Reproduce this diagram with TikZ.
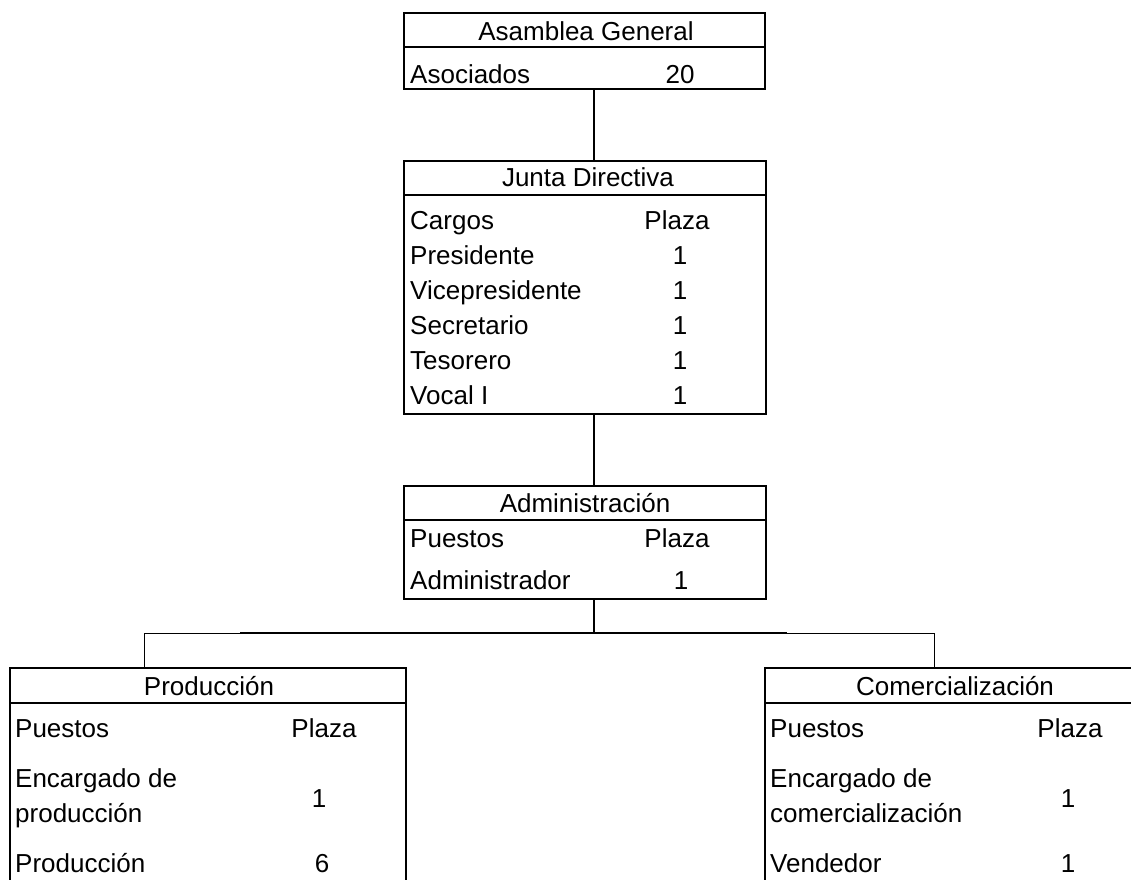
\documentclass[tikz,border=0pt]{standalone}
\usepackage{fontspec}
\setmainfont{Liberation Sans}
\begin{document}
\begin{tikzpicture}[x=1pt,y=-1pt,
  box/.style={draw, line width=2pt, rectangle, inner sep=0pt},
  sep/.style={line width=2pt},
  conn/.style={line width=2pt},
  branch/.style={line width=1pt},
  txt/.style={inner sep=0pt, font=\fontsize{26}{31}\selectfont},
  lt/.style={txt, anchor=base west},
  ct/.style={txt, anchor=base}]
\useasboundingbox (0,0) rectangle (1131,879);
\clip (0,0) rectangle (1131,879);

% Asamblea General
\node[box, minimum width=361pt, minimum height=76pt] (ag) at (584.5,51) {};
\draw[sep] (ag.north west) ++(0,35) -- ++(361,0);
\node[ct] (ag-h) at (586,40.7) {Asamblea General};
\node[lt] (ag-a) at (410,83) {Asociados};
\node[ct] (ag-n) at (680,83) {20};

% Junta Directiva
\node[box, minimum width=362pt, minimum height=253pt] (jd) at (585,287.5) {};
\draw[sep] (jd.north west) ++(0,35) -- ++(362,0);
\node[ct] (jd-h) at (588,186) {Junta Directiva};
\node[lt] (jd-c) at (410,229) {Cargos};
\node[ct] (jd-cp) at (677,229) {Plaza};
\node[lt] (jd-1) at (410,264) {Presidente};
\node[ct] (jd-1n) at (680,264) {1};
\node[lt] (jd-2) at (410,299) {Vicepresidente};
\node[ct] (jd-2n) at (680,299) {1};
\node[lt] (jd-3) at (410,334) {Secretario};
\node[ct] (jd-3n) at (680,334) {1};
\node[lt] (jd-4) at (410,369) {Tesorero};
\node[ct] (jd-4n) at (680,369) {1};
\node[lt] (jd-5) at (410,404) {Vocal I};
\node[ct] (jd-5n) at (680,404) {1};

% Administracion
\node[box, minimum width=362pt, minimum height=113pt] (ad) at (585,542.5) {};
\draw[sep] (ad.north west) ++(0,35) -- ++(362,0);
\node[ct] (ad-h) at (585,512) {Administración};
\node[lt] (ad-p) at (410,547) {Puestos};
\node[ct] (ad-pp) at (677,547) {Plaza};
\node[lt] (ad-1) at (410,589) {Administrador};
\node[ct] (ad-1n) at (681,589) {1};

% Produccion
\node[box, minimum width=396pt, minimum height=232pt] (pr) at (208,784) {};
\draw[sep] (pr.north west) ++(0,36) -- ++(396,0);
\node[ct] (pr-h) at (209,695) {Producción};
\node[lt] (pr-p) at (15,737) {Puestos};
\node[ct] (pr-pp) at (324,737) {Plaza};
\node[lt] (pr-1a) at (15,787) {Encargado de};
\node[lt] (pr-1b) at (15,822) {producción};
\node[ct] (pr-1n) at (319,807) {1};
\node[lt] (pr-2) at (15,872) {Producción};
\node[ct] (pr-2n) at (322,872) {6};

% Comercializacion
\node[box, minimum width=380pt, minimum height=232pt] (co) at (955,784) {};
\draw[sep] (co.north west) ++(0,36) -- ++(380,0);
\node[ct] (co-h) at (955,695) {Comercialización};
\node[lt] (co-p) at (770,737) {Puestos};
\node[ct] (co-pp) at (1070,737) {Plaza};
\node[lt] (co-1a) at (770,787) {Encargado de};
\node[lt] (co-1b) at (770,822) {comercialización};
\node[ct] (co-1n) at (1068,807) {1};
\node[lt] (co-2) at (770,872) {Vendedor};
\node[ct] (co-2n) at (1068,872) {1};

% connectors
\coordinate (bus) at (594,633);
\coordinate (busL) at (144,633);
\coordinate (busR) at (934,633);
\coordinate (busLt) at (240,633);
\coordinate (busRt) at (787,633);
\draw[conn] ([xshift=9.5pt]ag.south) -- ([xshift=9pt]jd.north);
\draw[conn] ([xshift=9pt]jd.south) -- ([xshift=9pt]ad.north);
\draw[conn] ([xshift=9pt]ad.south) -- (bus);
\draw[branch] (pr.north -| busL) -- (busL) -- (busR) -- (co.north -| busR);
\draw[conn] (busLt) -- (busRt);
\end{tikzpicture}
\end{document}
